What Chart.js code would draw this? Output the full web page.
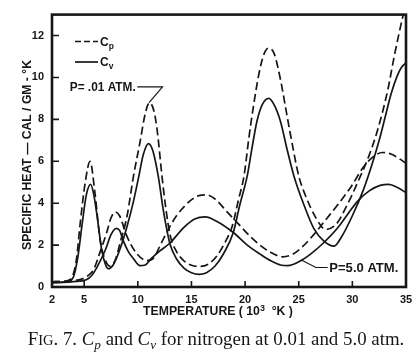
<!DOCTYPE html>
<html><head><meta charset="utf-8">
<script src="https://cdn.jsdelivr.net/npm/chart.js@4/dist/chart.umd.min.js"></script>
<style>html,body{margin:0;padding:0;background:#fff;}canvas{display:block;}</style>
</head><body>
<canvas id="c" width="419" height="356"></canvas>
<script>
// ---- tick labels ----
const xTicks = [2, 5, 10, 15, 20, 25, 30, 35];
const yTicks = [0, 2, 4, 6, 8, 10, 12];

// ---- Cp at P = 0.01 atm ----
const cp001T = [2,3,3.6,4.0,4.3,4.6,5.1,5.55,6.0,6.5,7.0,7.4,7.9,8.4,9.0,9.6,10.2,10.7,11.1,11.5,11.8,12.25,12.6,13.0,13.6,14.3,15.0,15.8,16.6,17.4,18.1,18.8,19.4,19.9,20.35,20.8,21.3,21.75,22.2,22.7,23.3,23.9,24.55,25.0,25.6,26.6,27.5,28.5,29.5,30.5,31.5,32.3,33.3,33.9,34.7,35];
const cp001V = [0.25,0.27,0.33,0.64,1.4,2.9,5.0,6.0,4.5,2.2,1.25,1.0,1.3,2.2,3.4,5.3,6.9,8.3,8.8,8.4,7.5,5.3,3.8,2.5,1.7,1.25,1.04,0.98,1.1,1.5,2.1,2.9,4.2,5.3,7.1,8.7,10.2,11.1,11.4,11.15,9.9,8.2,6.4,5.3,4.4,3.3,2.75,3.0,3.9,5.0,6.2,7.4,9.4,11.0,12.9,13.5];

// ---- Cv at P = 0.01 atm ----
const cv001T = [2,3,3.6,4.0,4.4,4.8,5.2,5.6,5.9,6.2,6.65,7.0,7.25,7.7,8.4,9.0,9.6,10.1,10.5,11.0,11.4,11.9,12.4,13.0,13.6,14.3,15.0,15.7,16.4,17.2,18.0,18.9,19.5,20.2,20.6,21.1,21.6,22.2,22.7,23.3,23.9,24.55,25.5,26.4,27.35,28.3,29.0,30.0,31.0,31.8,32.5,33.1,33.6,34.2,34.6,35];
const cv001V = [0.22,0.24,0.3,0.48,1.4,2.96,4.4,4.9,4.4,3.4,1.72,1.05,0.87,1.05,1.9,2.9,4.1,5.3,6.3,6.84,6.5,5.3,3.6,2.05,1.35,0.9,0.68,0.6,0.68,1.0,1.6,2.6,3.9,5.3,6.5,7.9,8.7,9.0,8.7,7.9,6.6,5.3,3.9,2.8,2.19,1.95,2.4,3.4,4.6,5.8,7.0,8.2,9.2,10.1,10.5,10.7];

// ---- Cp at P = 5.0 atm ----
const cp50T = [2,3,4,4.9,5.5,5.9,6.5,7.1,7.5,7.9,8.3,9.0,9.9,10.85,11.5,12.1,12.9,13.65,14.9,15.7,16.4,17.2,18.3,19.4,20.5,21.5,22.4,23.5,24.4,25.2,26.4,27.5,28.6,29.9,31.0,31.9,32.8,33.6,34.3,35];
const cp50V = [0.25,0.26,0.3,0.4,0.6,0.85,1.7,2.6,3.3,3.58,3.4,2.4,1.6,1.26,1.4,2.0,2.8,3.43,4.12,4.36,4.4,4.2,3.6,3.0,2.4,1.95,1.65,1.44,1.55,1.85,2.5,3.2,3.9,4.8,5.7,6.2,6.42,6.35,6.15,5.9];

// ---- Cv at P = 5.0 atm ----
const cv50T = [2,3,4,5.2,5.7,6.2,7.0,7.5,8.0,8.3,8.65,9.1,9.6,10.2,10.7,11.2,12.0,13.0,14.3,15.3,16.3,17.3,18.9,20.2,21.4,22.4,23.3,24.0,25.0,26.1,27.3,28.6,29.6,30.5,31.6,32.6,33.4,34.2,35];
const cv50V = [0.2,0.22,0.26,0.35,0.55,0.95,1.8,2.5,2.8,2.7,2.2,1.7,1.35,1.02,1.05,1.33,1.7,2.1,2.85,3.25,3.35,3.15,2.6,2.0,1.57,1.25,1.05,1.02,1.2,1.57,2.1,2.8,3.5,4.1,4.6,4.85,4.9,4.75,4.5];

const INK = '#161616';
const SANS = '"Liberation Sans", Arial, sans-serif';
const SERIF = '"Liberation Serif", "Times New Roman", serif';

function series(label, t, v, dashed) {
  return {
    label, data: t.map((x, i) => ({x, y: v[i]})),
    borderColor: INK, backgroundColor: INK, borderWidth: 1.7,
    borderDash: dashed ? [8, 4] : [], pointRadius: 0, fill: false,
    cubicInterpolationMode: 'monotone'
  };
}

// annotation anchors (data units)
const notes = {
  p001: {text: 'P= .01 ATM.', at: [9.9, 9.55], width: 66, leader: [[9.95, 9.55], [12.3, 9.55], [11.05, 8.8]]},
  p50: {text: 'P=5.0 ATM.', at: [27.85, 0.93], width: 69, leader: [[25.2, 1.3], [26.6, 0.93], [27.7, 0.93]]}
};

function fontStr(s, k) {
  return (s.style || '') + ' ' + (s.weight || '') + ' ' + (s.size * k).toFixed(2) + 'px ' + s.fam;
}
function richText(ctx, segs, x, y, align, targetW) {
  let w = 0;
  segs.forEach(s => { ctx.font = fontStr(s, 1); w += ctx.measureText(s.t).width; });
  const k = targetW ? targetW / w : 1;
  let tw = 0;
  segs.forEach(s => { ctx.font = fontStr(s, k); s.w = ctx.measureText(s.t).width; tw += s.w; });
  let sx = align === 'center' ? x - tw / 2 : align === 'right' ? x - tw : x;
  ctx.textAlign = 'left';
  segs.forEach(s => { ctx.font = fontStr(s, k); ctx.fillText(s.t, sx, y + (s.dy || 0) * k); sx += s.w; });
}

const decor = {
  id: 'decor',
  afterDatasetsDraw(chart) {
    const {ctx, chartArea: a, scales: {x, y}} = chart;
    ctx.save();
    ctx.strokeStyle = INK; ctx.fillStyle = INK;
    // frame
    ctx.lineWidth = 2.6;
    ctx.strokeRect(a.left, a.top, a.right - a.left, a.bottom - a.top);
    // inward ticks
    ctx.lineWidth = 1.6;
    ctx.beginPath();
    x.ticks.forEach(t => { const px = x.getPixelForValue(t.value); ctx.moveTo(px, a.bottom); ctx.lineTo(px, a.bottom - 6); });
    y.ticks.forEach(t => { const py = y.getPixelForValue(t.value); ctx.moveTo(a.left, py); ctx.lineTo(a.left + 7, py); });
    ctx.stroke();
    // legend
    ctx.lineWidth = 1.7;
    const lg = [{dash: [6, 3], sub: 'p', y: 41.5}, {dash: [], sub: 'v', y: 62}];
    lg.forEach(l => {
      ctx.setLineDash(l.dash);
      ctx.beginPath(); ctx.moveTo(75, l.y); ctx.lineTo(98, l.y); ctx.stroke();
      ctx.setLineDash([]);
      ctx.textBaseline = 'alphabetic';
      richText(ctx, [{t: 'C', size: 12, weight: 'bold', fam: SANS}, {t: l.sub, size: 8.5, weight: 'bold', fam: SANS, dy: 3}], 100, l.y + 4, 'left');
    });
    // annotations
    ctx.lineWidth = 1.2;
    Object.values(notes).forEach(n => {
      ctx.beginPath();
      n.leader.forEach((p, i) => {
        const px = x.getPixelForValue(p[0]), py = y.getPixelForValue(p[1]);
        i ? ctx.lineTo(px, py) : ctx.moveTo(px, py);
      });
      ctx.stroke();
    });
    ctx.textBaseline = 'middle';
    richText(ctx, [{t: notes.p001.text, size: 10.5, weight: 'bold', fam: SANS}], x.getPixelForValue(notes.p001.at[0]) - 1, y.getPixelForValue(notes.p001.at[1]) + 1, 'right', notes.p001.width);
    richText(ctx, [{t: notes.p50.text, size: 10.5, weight: 'bold', fam: SANS}], x.getPixelForValue(notes.p50.at[0]), y.getPixelForValue(notes.p50.at[1]) + 1, 'left', notes.p50.width);
    // axis titles
    ctx.textBaseline = 'alphabetic';
    richText(ctx, [{t: 'TEMPERATURE ( 10', size: 11, weight: 'bold', fam: SANS}, {t: '3', size: 8, weight: 'bold', fam: SANS, dy: -4}, {t: '  °K )', size: 11, weight: 'bold', fam: SANS}], 218, 315, 'center', 150);
    ctx.save();
    ctx.translate(31, 155); ctx.rotate(-Math.PI / 2);
    richText(ctx, [{t: 'SPECIFIC HEAT — CAL / GM - °K', size: 11, weight: 'bold', fam: SANS}], 0, 0, 'center', 190);
    ctx.restore();
    // caption
    richText(ctx, [
      {t: 'F', size: 15, fam: SERIF}, {t: 'IG', size: 11.5, fam: SERIF}, {t: '. 7. ', size: 15, fam: SERIF},
      {t: 'C', size: 15, fam: SERIF, style: 'italic'}, {t: 'p', size: 10.5, fam: SERIF, style: 'italic', dy: 3},
      {t: ' and ', size: 15, fam: SERIF},
      {t: 'C', size: 15, fam: SERIF, style: 'italic'}, {t: 'v', size: 10.5, fam: SERIF, style: 'italic', dy: 3},
      {t: ' for nitrogen at 0.01 and 5.0 atm.', size: 15, fam: SERIF}
    ], 216, 345, 'center', 377);
    ctx.restore();
  }
};

const tickFont = {family: SANS, size: 11, weight: 'bold'};
new Chart(document.getElementById('c'), {
  type: 'line',
  data: {datasets: [
    series('Cp, P = .01 atm', cp001T, cp001V, true),
    series('Cv, P = .01 atm', cv001T, cv001V, false),
    series('Cp, P = 5.0 atm', cp50T, cp50V, true),
    series('Cv, P = 5.0 atm', cv50T, cv50V, false)
  ]},
  options: {
    responsive: false, animation: false, devicePixelRatio: 1,
    layout: {padding: {top: 9, right: 13, left: 0, bottom: 0}},
    plugins: {legend: {display: false}, tooltip: {enabled: false}, title: {display: false}},
    scales: {
      x: {
        type: 'linear', min: 2, max: 35,
        afterBuildTicks: s => { s.ticks = xTicks.map(v => ({value: v})); },
        afterFit: s => { s.height = 69; },
        grid: {display: false, drawTicks: false}, border: {display: false},
        ticks: {padding: 6, font: tickFont, color: INK, autoSkip: false, maxRotation: 0, callback: v => String(v)}
      },
      y: {
        type: 'linear', min: 0, max: 13,
        afterBuildTicks: s => { s.ticks = yTicks.map(v => ({value: v})); },
        afterFit: s => { s.width = 52; },
        grid: {display: false, drawTicks: false}, border: {display: false},
        ticks: {padding: 8, font: tickFont, color: INK, autoSkip: false, callback: v => String(v)}
      }
    }
  },
  plugins: [decor]
});
</script>
</body></html>
